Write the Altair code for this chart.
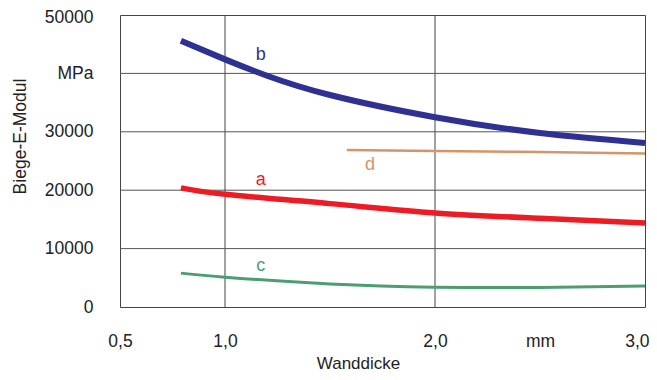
import altair as alt
import pandas as pd

# Data
b_x = [0.79, 1.0, 1.2, 1.5, 2.0, 2.5, 3.0]
b_y = [45600, 42400, 39600, 36300, 32500, 29800, 28100]
a_x = [0.79, 1.0, 1.5, 2.0, 2.5, 3.0]
a_y = [20400, 19300, 17700, 16100, 15200, 14400]
c_x = [0.79, 1.0, 1.5, 2.0, 2.5, 3.0]
c_y = [5800, 5100, 3950, 3400, 3350, 3600]
d_x = [1.58, 2.0, 2.5, 3.0]
d_y = [26900, 26700, 26550, 26300]

label_text = ["b", "a", "c", "d"]
label_x = [1.17, 1.17, 1.17, 1.69]
label_y = [43200, 21700, 7000, 24300]

x_ticks = [0.5, 1.0, 2.0, 2.5, 3.0]
y_ticks = [0, 10000, 20000, 30000, 40000, 50000]
x_grid = [1.0, 2.0]
y_grid = [10000, 20000, 30000, 40000]

colors = {"a": "#ed1c24", "b": "#2e3192", "c": "#4a9e72", "d": "#d4956a"}
widths = {"a": 5.5, "b": 6, "c": 3, "d": 2.5}

FONT = "Liberation Sans"
FS = 17.5

xscale = alt.Scale(domain=[0.5, 3.0], nice=False, zero=False)
yscale = alt.Scale(domain=[0, 50000], nice=False)

base_x_axis = alt.Axis(
    values=x_ticks, grid=False, ticks=False, domain=False,
    labelExpr="datum.value == 2.5 ? 'mm' : replace(format(datum.value, '.1f'), '.', ',')",
    labelFont=FONT, labelFontSize=FS, labelColor="#222", labelPadding=25,
    labelFlush=False, labelOverlap=False,
    labelAlign={"condition": {"test": "datum.value == 3", "value": "right"}, "value": "center"},
    labelOffset={"condition": {"test": "datum.value == 3", "value": 4}, "value": 0},
    title="Wanddicke", titleFont=FONT, titleFontSize=17, titleFontWeight="normal",
    titleColor="#222", titleX=238, titleY=61, titleBaseline="alphabetic", titleAlign="center",
)
base_y_axis = alt.Axis(
    values=y_ticks, grid=False, ticks=False, domain=False,
    labelExpr="datum.value == 40000 ? 'MPa' : format(datum.value, 'd')",
    labelFont=FONT, labelFontSize=FS, labelColor="#222", labelPadding=27,
    labelFlush=False, labelOverlap=False,
    labelOffset={"condition": {"test": "datum.value == 50000", "value": 2}, "value": 0},
    title="Biege-E-Modul", titleFont=FONT, titleFontSize=FS, titleFontWeight="normal",
    titleColor="#222", titleX=-100, titleY=121, titleBaseline="middle", titleAlign="center",
    titleAngle=270,
)

xg = pd.DataFrame({"x": x_grid})
yg = pd.DataFrame({"y": y_grid})

vrules = alt.Chart(xg).mark_rule(color="#444", strokeWidth=1).encode(
    x=alt.X("x:Q", scale=xscale, axis=base_x_axis)
)
hrules = alt.Chart(yg).mark_rule(color="#555", strokeWidth=1).encode(
    y=alt.Y("y:Q", scale=yscale, axis=base_y_axis)
)

layers = [vrules, hrules]
series = [("d", d_x, d_y), ("c", c_x, c_y), ("a", a_x, a_y), ("b", b_x, b_y)]
for name, xs, ys in series:
    df = pd.DataFrame({"x": xs, "y": ys})
    layers.append(
        alt.Chart(df).mark_line(
            color=colors[name], strokeWidth=widths[name], interpolate="natural"
        ).encode(
            x=alt.X("x:Q", scale=xscale),
            y=alt.Y("y:Q", scale=yscale),
        )
    )

lab = pd.DataFrame({"t": label_text, "x": label_x, "y": label_y,
                    "c": [colors[t] for t in label_text]})
layers.append(
    alt.Chart(lab).mark_text(font=FONT, fontSize=18, baseline="middle", align="center").encode(
        x=alt.X("x:Q", scale=xscale),
        y=alt.Y("y:Q", scale=yscale),
        text="t:N",
        color=alt.Color("c:N", scale=None),
    )
)

chart = alt.layer(*layers).properties(
    width=525, height=292,
    autosize=alt.AutoSizeParams(type="none"),
    padding={"left": 112, "top": 7, "right": 4, "bottom": 65},
    background="white",
).configure_view(stroke="#444", strokeWidth=1)

chart.save("out.html", embed_options={"renderer": "svg", "actions": False})
